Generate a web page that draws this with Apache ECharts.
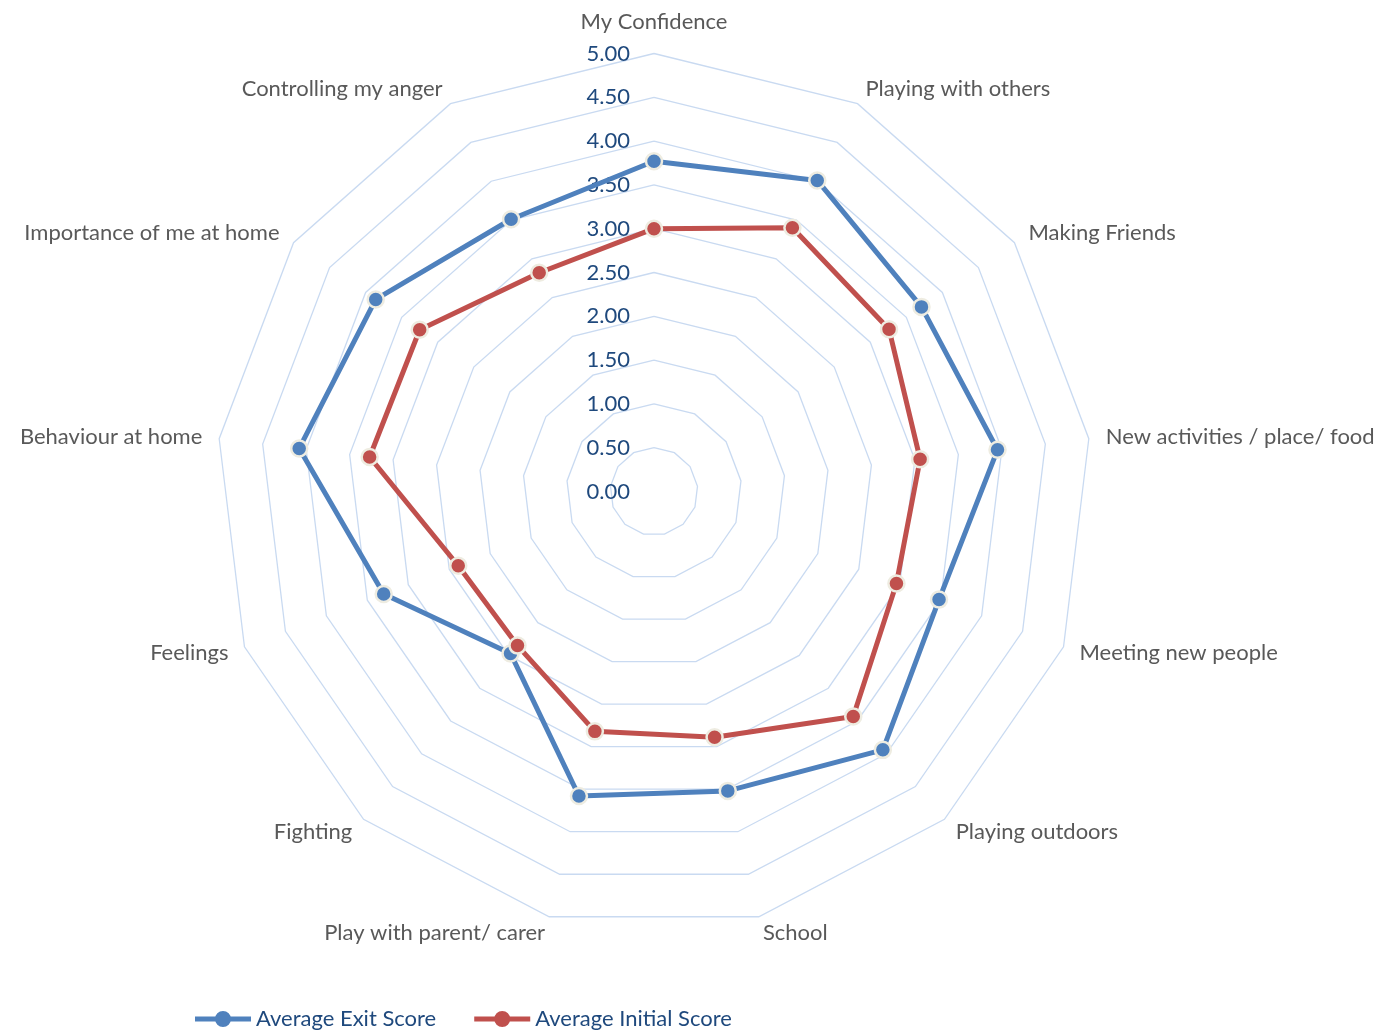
<!DOCTYPE html>
<html>
<head>
<meta charset="utf-8">
<title>Average Scores</title>
<script src="https://cdn.jsdelivr.net/npm/echarts@6/dist/echarts.min.js"></script>
<style>
  html, body { margin: 0; padding: 0; background: #ffffff; }
  #chart { width: 1387px; height: 1032px; }
</style>
</head>
<body>
<div id="chart"></div>
<script>
// Categories, listed clockwise from the top
const categories = [
  'My Confidence',
  'Playing with others',
  'Making Friends',
  'New activities / place/ food',
  'Meeting new people',
  'Playing outdoors',
  'School',
  'Play with parent/ carer',
  'Fighting',
  'Feelings',
  'Behaviour at home',
  'Importance of me at home',
  'Controlling my anger'
];

const exitScores =    [3.77, 4.01, 3.71, 3.95, 3.48, 3.94, 3.52, 3.58, 2.47, 3.30, 4.08, 3.86, 3.51];
const initialScores = [3.00, 3.40, 3.26, 3.06, 2.96, 3.43, 2.89, 2.82, 2.35, 2.39, 3.27, 3.25, 2.82];

const seriesNames = ['Average Exit Score', 'Average Initial Score'];
const scaleMin = 0;
const scaleMax = 5;
const scaleSteps = 10;

// The radar lays its axes out counter-clockwise; keep the first axis on top
// and reverse the rest so the categories run clockwise.
function clockwiseOrder(arr) {
  return [arr[0]].concat(arr.slice(1).reverse());
}

const BLUE = '#4F81BD';
const RED = '#C0504D';
const RING = '#EEECE1';
const FONT = 'Lato, "Open Sans", sans-serif';
const FONT_SIZE = 22;

const indicators = clockwiseOrder(categories).map(function (name, i) {
  const ind = { name: name, min: scaleMin, max: scaleMax };
  if (i === 0) {
    ind.nameGap = 21;
    ind.axisLabel = {
      show: true,
      margin: 24,
      fontSize: FONT_SIZE,
      color: '#1F497D',
      fontFamily: FONT,
      formatter: function (v) { return Number(v).toFixed(2); }
    };
  }
  return ind;
});

const legendIcon = 'path://M0,5.5 L22,5.5 L22,10.5 L0,10.5 Z M34,5.5 L56,5.5 L56,10.5 L34,10.5 Z ' +
  'M28,0 A8,8 0 1,1 28,16 A8,8 0 1,1 28,0 Z';

const chart = echarts.init(document.getElementById('chart'), null, { renderer: 'canvas' });

chart.setOption({
  animation: false,
  backgroundColor: '#ffffff',
  legend: {
    left: 190,
    top: 1003,
    itemWidth: 56,
    itemHeight: 16,
    itemGap: 38,
    textStyle: { fontSize: FONT_SIZE, color: '#1F497D', fontFamily: FONT },
    data: [
      { name: seriesNames[0], icon: legendIcon, itemStyle: { color: BLUE, borderWidth: 0 } },
      { name: seriesNames[1], icon: legendIcon, itemStyle: { color: RED, borderWidth: 0 } }
    ]
  },
  radar: {
    center: [654, 491.5],
    radius: 438,
    shape: 'polygon',
    splitNumber: scaleSteps,
    nameGap: 17,
    axisName: { color: '#595959', fontSize: FONT_SIZE, fontFamily: FONT },
    axisLine: { show: false },
    axisTick: { show: false },
    axisLabel: { show: false },
    splitArea: { show: false },
    splitLine: { lineStyle: { color: '#C9DAF1', width: 1.3 } },
    indicator: indicators
  },
  series: [{
    type: 'radar',
    symbol: 'circle',
    symbolSize: 16,
    data: [
      {
        name: seriesNames[0],
        value: clockwiseOrder(exitScores),
        lineStyle: { color: BLUE, width: 5 },
        itemStyle: { color: BLUE, borderColor: RING, borderWidth: 2.5 }
      },
      {
        name: seriesNames[1],
        value: clockwiseOrder(initialScores),
        lineStyle: { color: RED, width: 5 },
        itemStyle: { color: RED, borderColor: RING, borderWidth: 2.5 }
      }
    ],
    z: 3
  }]
});
</script>
</body>
</html>
